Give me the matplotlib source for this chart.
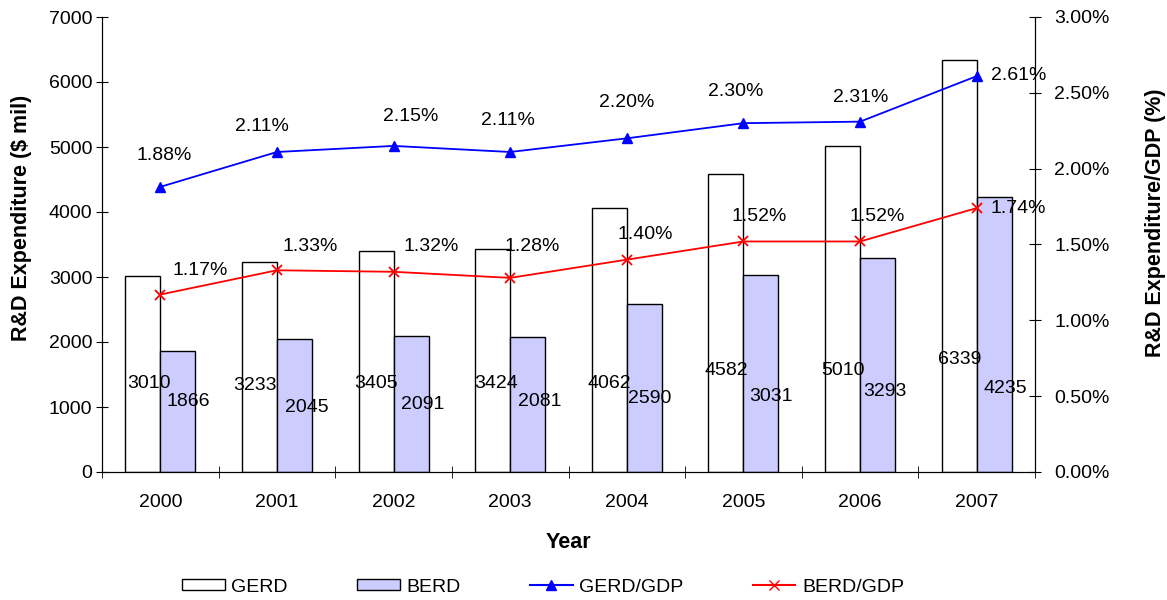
import numpy as np
import matplotlib.pyplot as plt
from matplotlib.patches import Patch
from matplotlib.lines import Line2D
from matplotlib.ticker import FuncFormatter, FixedLocator

plt.rcParams['font.family'] = ['Liberation Sans', 'DejaVu Sans']

years = ['2000', '2001', '2002', '2003', '2004', '2005', '2006', '2007']
gerd = [3010, 3233, 3405, 3424, 4062, 4582, 5010, 6339]
berd = [1866, 2045, 2091, 2081, 2590, 3031, 3293, 4235]
gerd_gdp = [1.88, 2.11, 2.15, 2.11, 2.20, 2.30, 2.31, 2.61]
berd_gdp = [1.17, 1.33, 1.32, 1.28, 1.40, 1.52, 1.52, 1.74]

# label placement (labels were hand-positioned in the original)
gerd_lbl_y = [1369, 1338, 1369, 1369, 1369, 1554, 1554, 1738]
berd_lbl_y = [1077, 1000, 1031, 1077, 1138, 1154, 1231, 1277]
gerd_lbl_dx = [6, -4, 0, 3, 0, 0, 0, 0]
berd_lbl_dx = [10, 12, 12, 12, 5, 10, 7, 11]
gerd_pct_off = [(4, 31), (-15, 25), (17, 29), (-2, 31), (0, 36), (-8, 32), (1, 24), (42, 1)]
berd_pct_off = [(40, 24), (33, 24), (38, 25), (22, 31), (18, 25), (16, 25), (17, 25), (42, 0)]

FS = 14
LFS = 15.5
x = np.arange(len(years))
w = 0.30

fig = plt.figure(figsize=(11.67, 6.0), dpi=100)
ax = fig.add_axes([102 / 1167, 1 - 472 / 600, 933 / 1167, 455 / 600])
ax2 = ax.twinx()

ax.bar(x - w / 2, gerd, w, color='white', edgecolor='black', linewidth=1.0, zorder=2)
ax.bar(x + w / 2, berd, w, color='#CCCCFF', edgecolor='black', linewidth=1.0, zorder=2)

for i in range(len(years)):
    ax.annotate(str(gerd[i]), (x[i] - w / 2, gerd_lbl_y[i]), xytext=(gerd_lbl_dx[i], 0),
                textcoords='offset pixels', ha='center', va='center', fontsize=FS, zorder=5)
    ax.annotate(str(berd[i]), (x[i] + w / 2, berd_lbl_y[i]), xytext=(berd_lbl_dx[i], 0),
                textcoords='offset pixels', ha='center', va='center', fontsize=FS, zorder=5)

ax2.plot(x, gerd_gdp, color='blue', marker='^', markersize=7, linewidth=1.3, zorder=3)
ax2.plot(x, berd_gdp, color='red', marker='x', markersize=7, markeredgewidth=1.3, linewidth=1.3, zorder=3)

for i in range(len(years)):
    ax2.annotate(f'{gerd_gdp[i]:.2f}%', (x[i], gerd_gdp[i]), xytext=gerd_pct_off[i],
                 textcoords='offset pixels', ha='center', va='center', fontsize=FS)
    ax2.annotate(f'{berd_gdp[i]:.2f}%', (x[i], berd_gdp[i]), xytext=berd_pct_off[i],
                 textcoords='offset pixels', ha='center', va='center', fontsize=FS)

ax.set_xlim(-0.5, len(years) - 0.5)
ax.set_ylim(0, 7000)
ax2.set_ylim(0, 3.0)
ax.set_yticks(np.arange(0, 7001, 1000))
ax2.set_yticks(np.arange(0, 3.01, 0.5))
ax2.yaxis.set_major_formatter(FuncFormatter(lambda v, _: f'{v:.2f}%'))

ax.set_xticks(x)
ax.set_xticklabels(years)
ax.xaxis.set_minor_locator(FixedLocator(np.arange(-0.5, len(years), 1.0)))
ax.tick_params(axis='x', which='major', length=0, pad=16, labelsize=FS)
ax.tick_params(axis='x', which='minor', direction='inout', length=8)
ax.tick_params(axis='y', direction='inout', length=8, pad=3, labelsize=FS)
ax2.tick_params(axis='y', direction='inout', length=8, pad=10, labelsize=FS)

for a in (ax, ax2):
    a.spines['top'].set_visible(False)
    for s in a.spines.values():
        s.set_color('black')
        s.set_linewidth(0.8)

ax.set_xlabel('Year', fontsize=LFS, fontweight='bold', labelpad=15)
ax.set_ylabel('R&D Expenditure ($ mil)', fontsize=LFS, fontweight='bold')
ax2.set_ylabel('R&D Expenditure/GDP (%)', fontsize=LFS, fontweight='bold')
ax.yaxis.set_label_coords(-0.075, 0.558)
ax2.yaxis.set_label_coords(1.118, 0.547)

handles = [
    Patch(facecolor='white', edgecolor='black', label='GERD'),
    Patch(facecolor='#CCCCFF', edgecolor='black', label='BERD'),
    Line2D([0], [0], color='blue', marker='^', markersize=7, label='GERD/GDP'),
    Line2D([0], [0], color='red', marker='x', markersize=7, label='BERD/GDP'),
]
fig.legend(handles=handles, loc='center', bbox_to_anchor=(543 / 1167, 1 - 587 / 600), ncol=4,
           frameon=False, fontsize=FS, columnspacing=3.55, handlelength=2.2,
           handleheight=0.5, handletextpad=0.35)

fig.savefig('out.png', dpi=100)
